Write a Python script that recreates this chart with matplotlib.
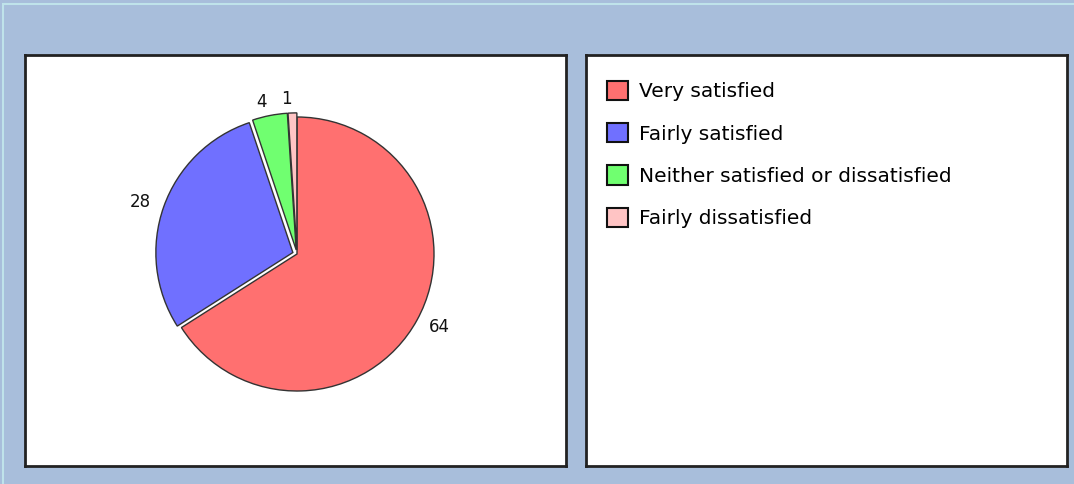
import matplotlib
matplotlib.use("Agg")
import matplotlib.pyplot as plt
from matplotlib.patches import Rectangle

# satisfaction survey results
categories = ["Very satisfied", "Fairly satisfied",
              "Neither satisfied or dissatisfied", "Fairly dissatisfied"]
values = [64, 28, 4, 1]
colors = ["#ff7070", "#7070ff", "#70ff70", "#ffc4c4"]
explode = [0.0, 0.032, 0.03, 0.03]

W, H = 1074, 484
fig = plt.figure(figsize=(W / 100, H / 100), dpi=100)
fig.patch.set_facecolor("#a8bedb")

# thin light frame line along the outer edge
fig.patches.append(Rectangle((3 / W, -0.1), 1.2, 1.1 - 4 / H, transform=fig.transFigure,
                             fill=False, edgecolor="#bfe3ea", lw=1.5))


def panel(x0, y0, x1, y1):
    # pixel coords from top-left
    ax = fig.add_axes([x0 / W, 1 - y1 / H, (x1 - x0) / W, (y1 - y0) / H])
    ax.set_xticks([])
    ax.set_yticks([])
    ax.set_facecolor("white")
    for s in ax.spines.values():
        s.set_color("#222222")
        s.set_linewidth(2)
    return ax


left = panel(25, 55, 566, 466)
right = panel(586, 55, 1067, 466)

# pie axes, centred on the pie
cx, cy, r = 297, 254, 137
lim = 1.4
side = 2 * lim * r
pax = fig.add_axes([(cx - side / 2) / W, 1 - (cy + side / 2) / H, side / W, side / H])
pax.set_xlim(-lim, lim)
pax.set_ylim(-lim, lim)
pax.set_aspect("equal")
pax.axis("off")

wedges, texts = pax.pie(values, labels=[str(v) for v in values], colors=colors,
                        explode=explode, startangle=90, counterclock=False,
                        labeldistance=1.1, radius=1.0,
                        wedgeprops=dict(edgecolor="#333333", linewidth=1.0),
                        textprops=dict(fontsize=12, color="#111111"))
pax.set_xlim(-lim, lim)
pax.set_ylim(-lim, lim)

right.legend(wedges, categories, loc="upper left", bbox_to_anchor=(0.027, 0.957),
             frameon=False, fontsize=14.5, handlelength=1.05, handleheight=1.1,
             handletextpad=0.55, labelspacing=1.08, borderaxespad=0)
for h in right.get_legend().legend_handles:
    h.set_edgecolor("#111111")
    h.set_linewidth(1.5)

fig.savefig("out.png", dpi=100, facecolor=fig.get_facecolor())
